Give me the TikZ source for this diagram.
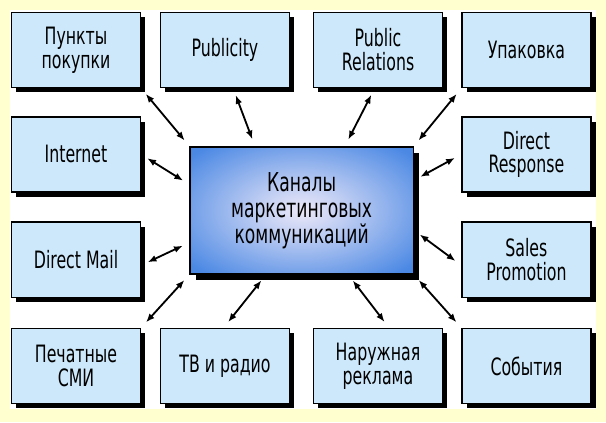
\documentclass[tikz,border=0pt]{standalone}
\usepackage{fontspec}
\setmainfont{DejaVu Sans}[FakeStretch=0.66]
\usetikzlibrary{arrows.meta, positioning, shadows}
\definecolor{bgyellow}{HTML}{FFFFD0}
\definecolor{boxblue}{HTML}{CCE8FA}
\definecolor{hubblue}{HTML}{4A88E4}
\definecolor{hubglow}{HTML}{ECE8F8}
\pgfdeclareradialshading{hubshade}{\pgfpoint{0bp}{0bp}}{color(0bp)=(hubglow); color(9bp)=(hubglow!75!hubblue); color(33bp)=(hubblue); color(50bp)=(hubblue)}

\begin{document}
\begin{tikzpicture}[
    channel/.style={rectangle, draw=black, line width=1pt, fill=boxblue, minimum width=3.22cm, minimum height=1.88cm, align=center, font=\fontsize{17}{17}\selectfont, drop shadow={shadow xshift=0.12cm, shadow yshift=-0.12cm, fill=black, opacity=1}},
    hub/.style={rectangle, draw=black, line width=1pt, shading=hubshade, shade, minimum width=5.58cm, minimum height=3.18cm, align=center, font=\fontsize{18.5}{18.5}\selectfont, drop shadow={shadow xshift=0.15cm, shadow yshift=-0.15cm, fill=black, opacity=1}},
    link/.style={{Latex[length=2.2mm,width=1.7mm]}-{Latex[length=2.2mm,width=1.7mm]}, line width=1.3pt, shorten >=0.18cm, shorten <=0.18cm}
]
% background frame
\fill[bgyellow] (0,0) rectangle (15.15,10.55);
\fill[white] (0.25,0.325) rectangle (14.9,10.3);

% centre
\node[hub] (c) at (7.54, 5.29) {Каналы\\маркетинговых\\коммуникаций};

% top row
\node[channel] (pp) at (1.9, 9.3) {Пункты\\покупки};
\node[channel] (pub) at (5.625, 9.3) {Publicity};
\node[channel] (pr) at (9.45, 9.3) {Public\\Relations};
\node[channel] (up) at (13.16, 9.3) {Упаковка};

% side rows
\node[channel] (inet) at (1.9, 6.69) {Internet};
\node[channel] (dr) at (13.16, 6.69) {Direct\\Response};
\node[channel] (dm) at (1.9, 4.06) {Direct Mail};
\node[channel] (sp) at (13.16, 4.06) {Sales\\Promotion};

% bottom row
\node[channel] (pm) at (1.9, 1.4) {Печатные\\СМИ};
\node[channel] (tv) at (5.625, 1.4) {ТВ и радио};
\node[channel] (nr) at (9.45, 1.4) {Наружная\\реклама};
\node[channel] (ev) at (13.16, 1.4) {События};

% links to the centre
\draw[link] (pp.south east) -- (c.north west);
\draw[link] (pub.-78) -- (c.126);
\draw[link] (pr.-95) -- (c.56);
\draw[link] (up.south west) -- (c.north east);
\draw[link] (inet.east) -- (c.167);
\draw[link] (dr.west) -- (c.15);
\draw[link] (dm.-5) -- (c.196);
\draw[link] (sp.185) -- (c.-10);
\draw[link] (pm.north east) -- (c.south west);
\draw[link] (tv.92) -- (c.-119);
\draw[link] (nr.74) -- (c.-54);
\draw[link] (ev.north west) -- (c.south east);
\end{tikzpicture}
\end{document}
